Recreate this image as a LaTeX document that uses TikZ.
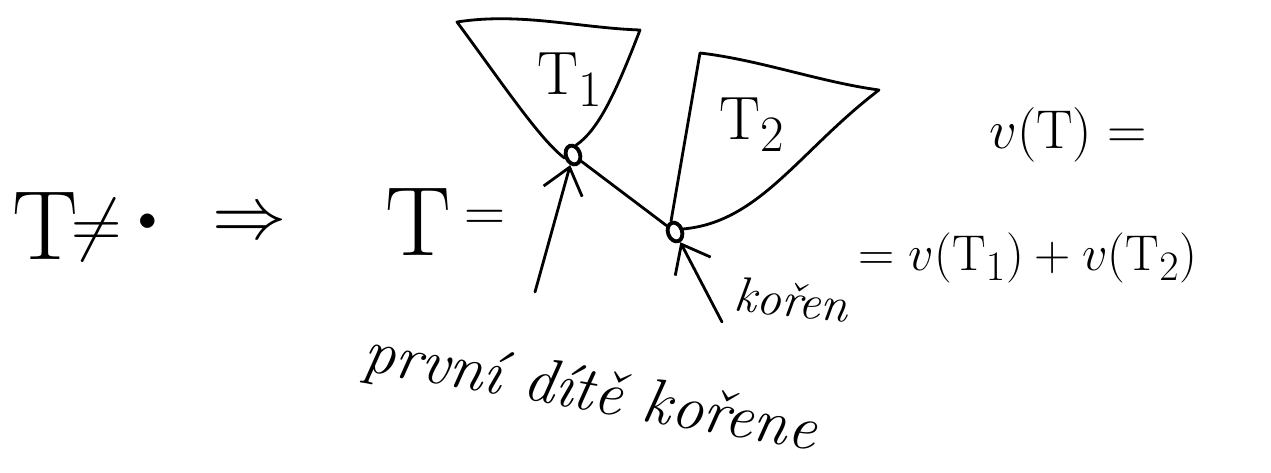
\documentclass[tikz,border=0pt]{standalone}
\usepackage{fontspec}
\usetikzlibrary{arrows.meta,shapes.geometric}
\begin{document}
\begin{tikzpicture}[x=0.02cm,y=-0.02cm,
  ink/.style={line width=1.6pt,line cap=round,line join=round},
  mth/.style={inner sep=0pt,font=\Huge,scale=#1},
  lbl/.style={inner sep=0pt,font=\fontsize{28}{32}\selectfont},
  rootnode/.style={ellipse,draw,line width=2.2pt,minimum width=8pt,minimum height=11pt,inner sep=0pt,rotate=20},
  pointer/.style={ink,-{Straight Barb[length=5mm,width=8mm,line width=1.6pt]}}]
\useasboundingbox (0,0) rectangle (1271,473);
% left formula
\node[mth=2.25] (tl) at (45,226) {$\mathrm{T}$};
\node[mth=1.6] (ne) at (97,230) {$\neq$};
\node[mth=0.85] (dot) at (148,222) {$\bullet$};
\node[mth=1.7] (imp) at (250,225) {$\Rightarrow$};
\node[mth=2.25] (tr) at (418,222) {$\mathrm{T}$};
\node[mth=1.3] (eq) at (485,220) {$=$};
% roots
\node[rootnode] (r1) at (573,155) {};
\node[rootnode] (r2) at (675,232) {};
% subtrees
\coordinate (a1) at (457,22);
\coordinate (b1) at (640,30);
\coordinate (a2) at (700,53);
\coordinate (b2) at (879,90);
\draw[ink] (r1.west) .. controls (540,140) and (500,80) .. (a1)
  .. controls (520,12) and (580,28) .. (b1)
  .. controls (615,95) and (598,130) .. (r1.north east);
\draw[ink] (r2.north) -- (a2) .. controls (760,60) and (820,82) .. (b2)
  .. controls (800,150) and (760,222) .. (r2.east);
\node[mth=1.4] (t1) at (570,80) {$\mathrm{T}_1$};
\node[mth=1.4] (t2) at (752,125) {$\mathrm{T}_2$};
% edge between roots
\draw[ink] (r1) -- (r2);
% pointers
\coordinate (p1) at (535,292);
\draw[pointer] (p1) -- (r1);
\node[lbl,rotate=-6] (koren) at (792,300) {\itshape kořen};
\coordinate (p2) at (722,322);
\draw[pointer] (p2) -- (r2);
\node[lbl,font=\fontsize{36}{40}\selectfont\itshape,rotate=-10] (child) at (590,395) {první dítě kořene};
% right formulas
\node[mth=1.25] (vt) at (1068,135) {$v(\mathrm{T}) =$};
\node[mth=1.15] (sum) at (1028,258) {$= v(\mathrm{T}_1) + v(\mathrm{T}_2)$};
\end{tikzpicture}
\end{document}
